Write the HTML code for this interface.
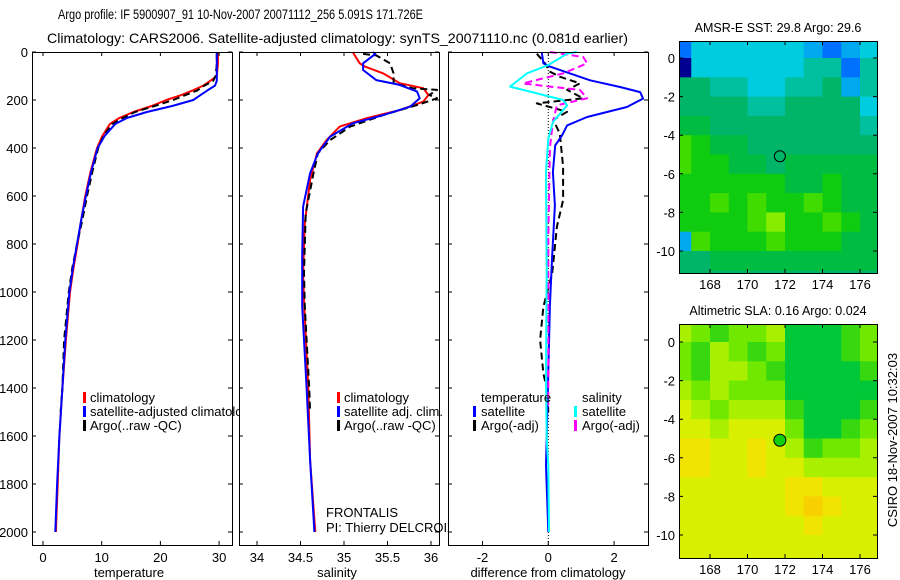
<!DOCTYPE html>
<html><head><meta charset="utf-8"><style>
html,body{margin:0;padding:0;background:#fff;}
svg{display:block;font-family:"Liberation Sans",sans-serif;}
</style></head><body>
<svg id="fig" width="900" height="580" xmlns="http://www.w3.org/2000/svg">
<text x="58" y="19" font-size="14" textLength="365" lengthAdjust="spacingAndGlyphs">Argo profile: IF 5900907_91 10-Nov-2007 20071112_256 5.091S 171.726E</text>
<text x="47" y="43" font-size="14" textLength="581" lengthAdjust="spacingAndGlyphs">Climatology: CARS2006. Satellite-adjusted climatology: synTS_20071110.nc (0.081d earlier)</text>
<g id="root"></g>
</svg>
<script>
// ---------- data ----------
const depthT = [0,50,100,120,140,160,180,200,225,250,275,300,350,400,500,600,700,800,900,1000,1200,1400,1600,1800,2000];
const tempClim = [29.8,29.8,29.6,28.5,27.3,25.5,23.5,21,18.5,15.4,13,11.4,10.1,9.2,8.1,7.2,6.5,5.9,5.2,4.6,3.9,3.3,2.8,2.5,2.2];
const tempSat = [29.6,29.6,29.6,29.6,29.3,28,26.8,25.6,22,17.7,14.3,12.3,10.5,9.3,8.2,7.3,6.5,5.8,5.1,4.5,3.8,3.3,2.8,2.4,2.1];
const depthA = [5,50,100,120,140,160,180,200,225,250,275,300,350,400,500,600,700,800,900,1000,1200,1400,1500];
const tempArgo = [29.6,29.6,29.4,29,27.5,26.3,24.2,22.2,19,15.7,13.6,11.8,10.3,9.4,8.4,7.5,6.7,5.8,5.0,4.4,3.6,3.3,3.0];
const depthSC = [0,47,61,89,130,151,179,207,242,276,311,367,422,533,714,922,1033,1400,1700,1950,2000];
const salClim = [35.10,35.18,35.24,35.45,35.64,35.91,35.97,35.91,35.64,35.26,34.95,34.80,34.69,34.61,34.55,34.53,34.54,34.59,34.61,34.66,34.67];
const depthSS = [0,8,47,75,117,137,165,193,228,263,297,353,422,505,644,853,1061,1400,1700,2000];
const salSat = [35.33,35.36,35.22,35.22,35.37,35.64,35.84,35.87,35.76,35.45,35.10,34.84,34.70,34.61,34.53,34.52,34.52,34.57,34.61,34.66];
const depthSA = [8,14,47,89,130,151,158,179,193,221,263,311,367,422,505,672,922,1061,1400,1500];
const salArgo = [35.22,35.37,35.53,35.57,35.57,35.79,36.07,35.98,36.07,35.84,35.45,35.07,34.84,34.70,34.65,34.56,34.54,34.55,34.60,34.61];
const depthDT = [0,47,61,118,146,167,194,229,271,306,347,389,500,639,847,1056,1333,1722,2000];
const diffTSat = [-0.2,-0.15,0.05,1.27,2.18,2.79,2.88,2.39,1.18,0.57,0.42,0.21,0.14,0.2,0.12,0.05,0,-0.07,0];
const depthDA = [7,47,82,103,131,158,193,214,249,283,339,478,617,728,922,1061,1200,1340,1410,1500];
const diffTArgo = [-0.35,-0.1,0.05,0.35,0.96,0.57,1.06,-0.35,0.57,0.15,0.35,0.45,0.45,0.26,0.12,-0.15,-0.25,-0.15,-0.03,0];
const depthDS = [0,7,54,89,144,200,222,292,361,500,917,1333,1611,1722,2000];
const diffSSat = [0.87,0.57,0,-0.65,-1.16,0.45,0.57,0.14,0,-0.07,-0.05,-0.07,-0.05,0,0.02];
const depthDM = [0,21,47,89,131,144,158,193,222,292,400,778,1000,1472];
const diffSArgo = [0.05,1.06,1.18,0.45,-0.77,0.05,0.96,1.18,0.26,0.14,0.05,0.0,0.0,0.0];
const depthTicks = [0,200,400,600,800,1000,1200,1400,1600,1800,2000];
const tempTicks = [0,10,20,30];
const salTicks = [34,34.5,35,35.5,36];
const salTickLabels = ["34","34.5","35","35.5","36"];
const diffTicks = [-2,0,2];
const lonTicks = [168,170,172,174,176];
const latTicks = [0,-2,-4,-6,-8,-10];
const sstGrid = [
[1,3,3,3,3,3,3,2,1,2,3],
[0,3,3,3,3,3,3,4,4,1,4],
[5,5,4,4,3,3,4,4,5,2,4],
[5,5,5,5,4,4,5,5,5,5,3],
[6,6,5,5,5,5,5,5,5,5,4],
[8,7,6,6,5,5,5,5,5,5,5],
[8,7,7,6,6,5,6,6,6,6,6],
[7,7,7,7,7,7,6,6,7,6,6],
[7,7,8,7,8,7,7,8,7,6,6],
[7,7,7,7,8,9,7,7,8,7,6],
[2,8,7,7,7,8,7,7,7,6,6],
[5,5,6,6,6,6,6,6,6,6,6]];
const slaGrid = [
[3,2,1,2,2,3,0,0,0,1,2],
[2,1,3,2,1,2,0,0,0,1,2],
[2,1,3,3,2,1,0,0,0,0,1],
[3,2,3,2,2,2,0,0,0,0,0],
[4,3,2,3,3,3,1,0,0,0,1],
[4,4,3,4,4,4,2,0,0,1,2],
[5,5,4,4,5,4,3,1,2,2,3],
[5,5,4,4,5,4,4,3,3,3,3],
[4,4,4,4,4,4,5,5,4,4,4],
[4,4,4,4,4,4,5,6,5,4,4],
[4,4,4,4,4,4,4,5,4,4,4],
[4,4,4,4,4,4,4,4,4,4,4]];
const argoLon = 171.726, argoLat = -5.091;

const sstColors = ["#000090","#0070ff","#00a8f0","#00cce0","#00c0a0","#00b468","#00bc40","#10cc10","#40dc00","#88ec00"];
const slaColors = ["#00c838","#38d810","#70e800","#a8f000","#d8f000","#f0e400","#f8d000"];

// ---------- helpers ----------
const NS = "http://www.w3.org/2000/svg";
const root = document.getElementById('root');
function el(tag, attrs, parent){const e=document.createElementNS(NS,tag);for(const k in attrs)e.setAttribute(k,attrs[k]);(parent||root).appendChild(e);return e;}
const yD = d => 52 + d*0.24;

function panel(x0,x1,y0,y1,name){
  const r = el('rect',{x:x0,y:y0,width:x1-x0,height:y1-y0,fill:'#fff',stroke:'none'});
  
  
}
function frame(x0,x1,y0,y1,name){
  const r = el('rect',{x:x0+0.5,y:y0+0.5,width:x1-x0,height:y1-y0,fill:'none',stroke:'#000','stroke-width':1});
  
  
}
function line(xs, ds, xf, color, dashed, name){
  let d='';
  for(let i=0;i<xs.length;i++) d += (i?'L':'M')+xf(xs[i]).toFixed(1)+','+yD(ds[i]).toFixed(1);
  const p = el('path',{d:d,fill:'none',stroke:color,'stroke-width':2,'stroke-dasharray':dashed?'7,4':'none','stroke-linejoin':'round'});
  
  
}
function txt(x,y,s,opts,name){
  const t = el('text',Object.assign({x:x,y:y,'font-size':13},opts||{}));
  t.textContent = s;
  
  
  return t;
}
function legBar(x,y,color,name){
  const r = el('rect',{x:x,y:y-10,width:3,height:11,fill:color});
  
  
}
function depthTicksFor(x0,x1,labels,name){
  depthTicks.forEach(d=>{
    const y=yD(d);
    const t = el('path',{d:`M${x0},${y}h4M${x1},${y}h-4`,stroke:'#000','stroke-width':1});
    
    
    if(labels) txt(x0-4,y+5,String(d),{'text-anchor':'end'},'y-tick-label');
  });
}
function xTicksFor(vals,labs,xf,y0,y1,name){
  vals.forEach((v,i)=>{
    const x=xf(v);
    const t = el('path',{d:`M${x},${y0}v4M${x},${y1}v-4`,stroke:'#000','stroke-width':1});
    
    
    txt(x,y1+17,labs[i],{'text-anchor':'middle'},name+'-x-tick-label');
  });
}

// ---------- panel 1: temperature ----------
const xT = v => 43 + v*5.87;
panel(32,232,52,545,'temperature-panel');
line(tempClim,depthT,xT,'#ff0000',false,'temperature-climatology-line');
line(tempArgo,depthA,xT,'#000',true,'temperature-argo-line');
line(tempSat,depthT,xT,'#0000ff',false,'temperature-satellite-line');
legBar(83,402,'#ff0000','legend-climatology-marker');
txt(90,402,'climatology',{},'legend-climatology');
legBar(83,416,'#0000ff','legend-satellite-marker');
txt(90,416,'satellite-adjusted climatology',{},'legend-satellite-adjusted');
legBar(83,430,'#000','legend-argo-marker');
txt(90,430,'Argo(..raw -QC)',{},'legend-argo');

// ---------- panel 2: salinity ----------
const xS = v => 257 + (v-34)*87;
panel(239,439,52,545,'salinity-panel');
line(salClim,depthSC,xS,'#ff0000',false,'salinity-climatology-line');
line(salArgo,depthSA,xS,'#000',true,'salinity-argo-line');
line(salSat,depthSS,xS,'#0000ff',false,'salinity-satellite-line');
legBar(337,402,'#ff0000','legend-sal-climatology-marker');
txt(344,402,'climatology',{},'legend-sal-climatology');
legBar(337,416,'#0000ff','legend-sal-satellite-marker');
txt(344,416,'satellite adj. clim.',{},'legend-sal-satellite');
legBar(337,430,'#000','legend-sal-argo-marker');
txt(344,430,'Argo(..raw -QC)',{},'legend-sal-argo');
txt(326,517,'FRONTALIS',{},'float-name');
txt(326,532,'PI: Thierry DELCROIX',{},'pi-name');

// ---------- panel 3: differences ----------
const xDf = v => 548.3 + v*32.9;
panel(448,648,52,545,'difference-panel');
const zl = el('path',{d:`M${xDf(0)},52V545`,stroke:'#000','stroke-width':1,'stroke-dasharray':'1,2'});


line(diffTArgo,depthDA,xDf,'#000',true,'diff-temp-argo-line');
line(diffTSat,depthDT,xDf,'#0000ff',false,'diff-temp-satellite-line');
line(diffSArgo,depthDM,xDf,'#ff00ff',true,'diff-sal-argo-line');
line(diffSSat,depthDS,xDf,'#00ffff',false,'diff-sal-satellite-line');
txt(481,402,'temperature',{},'legend-temperature-heading');
legBar(473,416,'#0000ff','legend-diff-temp-sat-marker');
txt(481,416,'satellite',{},'legend-diff-temp-sat');
legBar(473,430,'#000','legend-diff-temp-argo-marker');
txt(481,430,'Argo(-adj)',{},'legend-diff-temp-argo');
txt(582,402,'salinity',{},'legend-salinity-heading');
legBar(574,416,'#00ffff','legend-diff-sal-sat-marker');
txt(582,416,'satellite',{},'legend-diff-sal-sat');
legBar(574,430,'#ff00ff','legend-diff-sal-argo-marker');
txt(582,430,'Argo(-adj)',{},'legend-diff-sal-argo');

// frames, ticks, labels
frame(32,232,52,545,'temperature-panel');
frame(239,439,52,545,'salinity-panel');
frame(448,648,52,545,'difference-panel');
depthTicksFor(32,232,true,'temperature');
depthTicksFor(239,439,false,'salinity');
depthTicksFor(448,648,false,'difference');
xTicksFor(tempTicks,tempTicks.map(String),xT,52,545,'temperature');
xTicksFor(salTicks,salTickLabels,xS,52,545,'salinity');
xTicksFor(diffTicks,diffTicks.map(String),xDf,52,545,'difference');
txt(129,577,'temperature',{'text-anchor':'middle'},'x-axis-title-temperature');
txt(337,577,'salinity',{'text-anchor':'middle'},'x-axis-title-salinity');
txt(548,577,'difference from climatology',{'text-anchor':'middle'},'x-axis-title-difference');

// ---------- maps ----------
function map(grid,colors,top,bottom,lat0y,title,name,filled){
  const x0=679,x1=877;
  const lonX = lon => 710 + (lon-168)*18.75;
  const latY = lat => lat0y - lat*19.3;
  const cid = name+'-clip';
  const cp = el('clipPath',{id:cid});
  el('rect',{x:x0,y:top,width:x1-x0,height:bottom-top},cp);
  const g = el('g',{'clip-path':`url(#${cid})`});
  
  
  el('rect',{x:x0,y:top,width:x1-x0,height:bottom-top,fill:colors[grid[grid.length-1][0]]},g);
  grid.forEach((row,r)=>row.forEach((v,c)=>{
    const cx=lonX(166+c), cy=latY(1-r);
    const cell = el('rect',{x:cx,y:cy,width:19,height:19.8,fill:colors[v]},g);
    
    
  }));
  const m = el('circle',{cx:lonX(argoLon),cy:latY(argoLat),r:filled?6:5.5,fill:filled?'#10d010':'none',stroke:'#000','stroke-width':1});
  
  
  frame(x0,x1,top,bottom,name);
  lonTicks.forEach(l=>{
    const x=lonX(l);
    const t=el('path',{d:`M${x},${top}v4M${x},${bottom}v-4`,stroke:'#000'});
    
    
    txt(x,bottom+16,String(l),{'text-anchor':'middle'},name+'-lon-label');
  });
  latTicks.forEach(l=>{
    const y=latY(l);
    const t=el('path',{d:`M${x0},${y}h4M${x1},${y}h-4`,stroke:'#000'});
    
    
    txt(675,y+5,String(l),{'text-anchor':'end'},name+'-lat-label');
  });
  txt(778,top-9,title,{'text-anchor':'middle','font-size':12.5},name+'-title');
}
map(sstGrid,sstColors,41,273,58,'AMSR-E SST: 29.8 Argo: 29.6','sst-map',false);
map(slaGrid,slaColors,324,558,342,'Altimetric SLA: 0.16 Argo: 0.024','sla-map',true);
txt(0,0,'CSIRO 18-Nov-2007 10:32:03',{'text-anchor':'middle',transform:'translate(897,440) rotate(-90)'},'credit-timestamp');
</script>
</body></html>
